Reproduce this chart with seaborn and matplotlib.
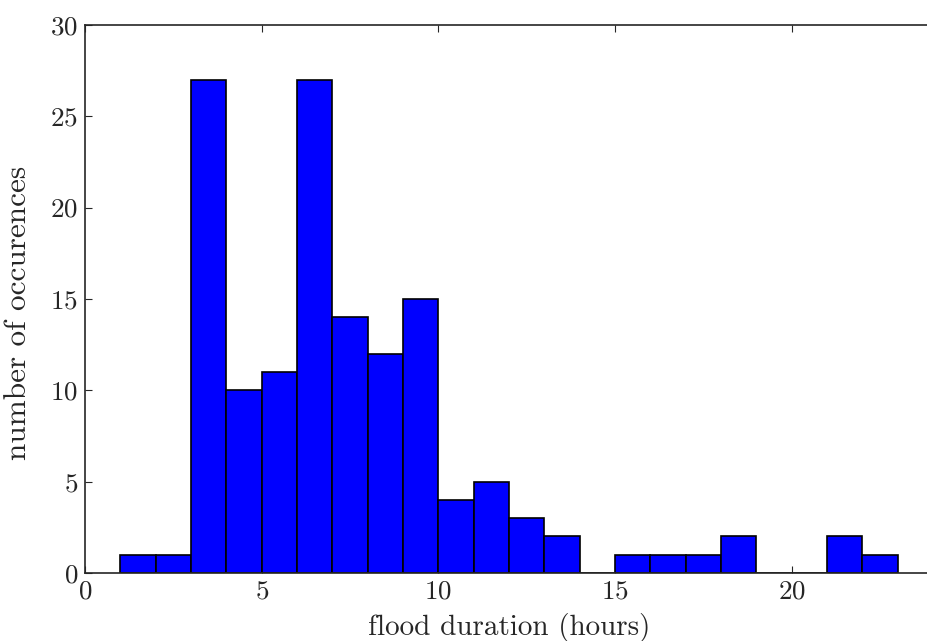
import numpy as np
import seaborn as sns
import matplotlib.pyplot as plt

sns.set_style("ticks")
plt.rcParams['font.family'] = ['cmr10', 'DejaVu Serif']
plt.rcParams['axes.formatter.use_mathtext'] = True

# histogram of flood durations, 1-hour bins from 1 to 23 h
bin_edges = list(range(1, 24))
counts = [1, 1, 27, 10, 11, 27, 14, 12, 15, 4, 5, 3, 2, 0, 1, 1, 1, 2, 0, 0, 2, 1]
bin_centers = [e + 0.5 for e in bin_edges[:-1]]

fig = plt.figure(figsize=(9.27, 6.41), dpi=100)
# right spine sits past the figure edge, as in the original crop
ax = fig.add_axes([0.0917, 0.1061, 0.9148, 0.855])

sns.histplot(x=bin_centers, weights=counts, bins=bin_edges, color="blue",
             edgecolor="black", linewidth=1.2, alpha=1, ax=ax)

ax.set_xlim(0, 24)
ax.set_ylim(0, 30)
ax.set_xticks([0, 5, 10, 15, 20])
ax.set_yticks([0, 5, 10, 15, 20, 25, 30])
ax.tick_params(direction="in", length=5, width=0.8, top=True, right=False,
               labelsize=19.5, pad=5)
for s in ax.spines.values():
    s.set_linewidth(1.2)
ax.spines["right"].set_visible(False)
ax.spines["top"].set_visible(True)

ax.set_xlabel("flood duration (hours)", fontsize=21, labelpad=7)
ax.set_ylabel("number of occurences", fontsize=22.5)
ax.yaxis.set_label_coords(-0.062, 0.474)

fig.savefig("out.png", dpi=100)
plt.close(fig)
